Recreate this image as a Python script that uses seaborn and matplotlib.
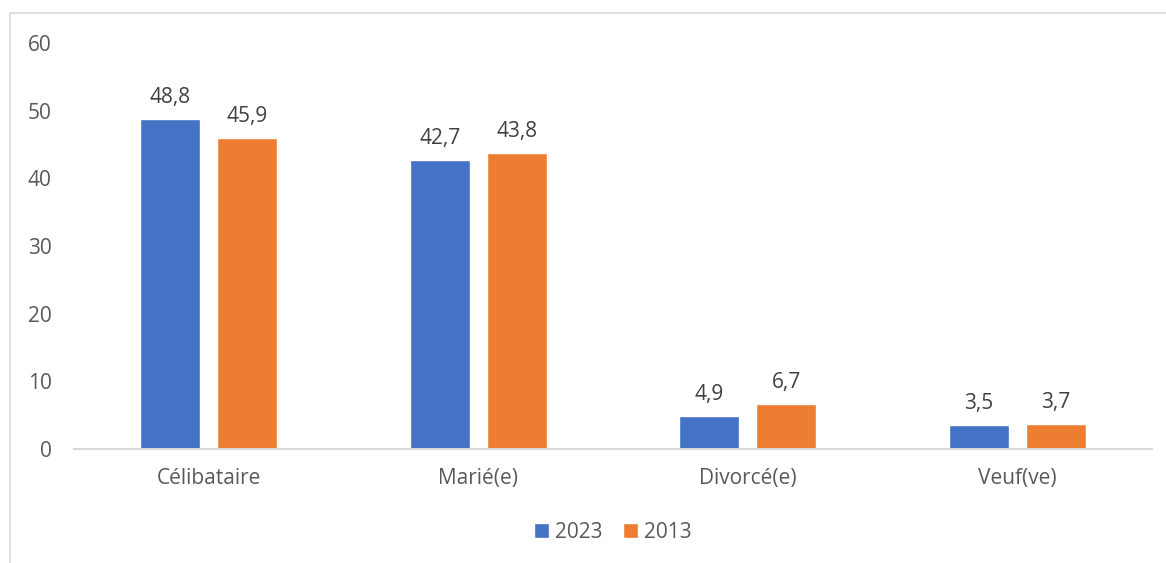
import pandas as pd
import matplotlib
matplotlib.use("Agg")
import matplotlib.pyplot as plt
import seaborn as sns
from matplotlib.patches import Rectangle

# data (%)
categories = ["Célibataire", "Marié(e)", "Divorcé(e)", "Veuf(ve)"]
years = ["2023", "2013"]
values_2023 = [48.8, 42.7, 4.9, 3.5]
values_2013 = [45.9, 43.8, 6.7, 3.7]
colors = ["#4472C4", "#ED7D31"]

df = pd.DataFrame({
    "etat": categories * 2,
    "annee": [years[0]] * 4 + [years[1]] * 4,
    "pct": values_2023 + values_2013,
})

sns.set_theme(style="white")
plt.rcParams["font.family"] = ["Open Sans", "DejaVu Sans"]

fig = plt.figure(figsize=(11.66, 5.63), dpi=100)
ax = fig.add_axes([74 / 1166, 1 - 449 / 563, (1152 - 74) / 1166, (449 - 43) / 563])

sns.barplot(data=df, x="etat", y="pct", hue="annee", palette=colors,
            width=0.57, gap=0.22, ax=ax, saturation=1, legend=True)

for cont in ax.containers:
    labels = [f"{v:.1f}".replace(".", ",") for v in cont.datavalues]
    ax.bar_label(cont, labels=labels, padding=8, fontsize=15, color="#404040")

ax.set_ylim(0, 60)
ax.set_xlim(-0.5, 3.5)
ax.set_yticks(range(0, 61, 10))
ax.set_xlabel("")
ax.set_ylabel("")
ax.tick_params(axis="y", labelsize=15, colors="#595959", length=0, pad=16)
ax.tick_params(axis="x", labelsize=15, colors="#595959", length=0, pad=14)
for s in ["top", "right", "left"]:
    ax.spines[s].set_visible(False)
ax.spines["bottom"].set_color("#d9d9d9")
ax.spines["bottom"].set_linewidth(1.5)

leg = ax.legend(loc="center", bbox_to_anchor=(0.5, -0.205), ncol=2, frameon=False,
                fontsize=15, handlelength=0.7, handleheight=0.7, handletextpad=0.3,
                columnspacing=1.0)
for t in leg.get_texts():
    t.set_color("#595959")

# outer chart frame (partially cropped in the original)
fig.patches.append(Rectangle((10 / 1166, -0.1), 1.2, 1 - 13 / 563 + 0.1,
                             transform=fig.transFigure, fill=False,
                             edgecolor="#d9d9d9", linewidth=1.2))

fig.savefig("out.png", dpi=100)
